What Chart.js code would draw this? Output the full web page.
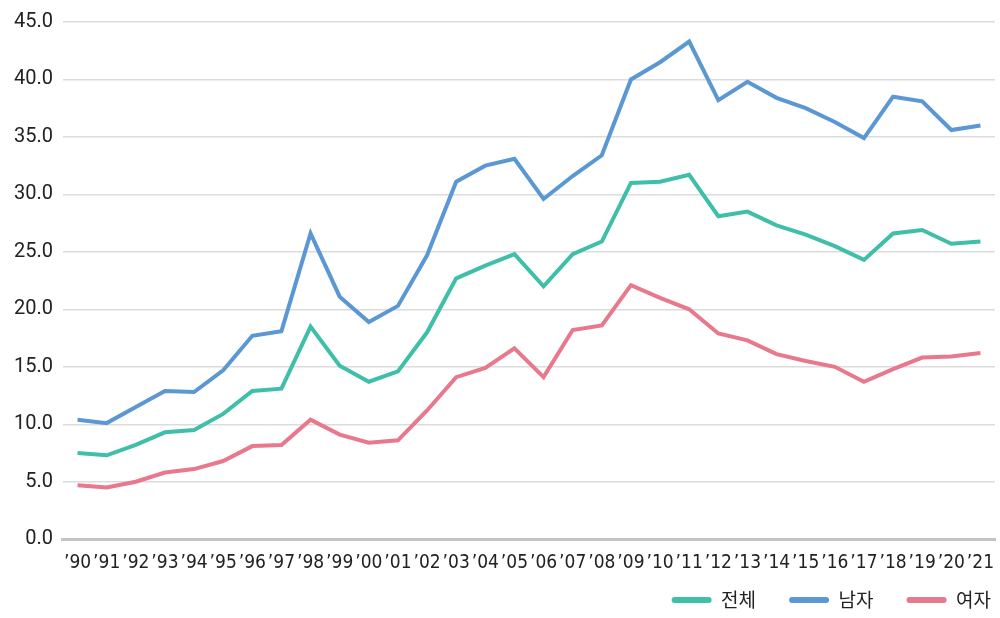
<!DOCTYPE html>
<html>
<head>
<meta charset="utf-8">
<script src="https://cdn.jsdelivr.net/npm/chart.js@4.4.0/dist/chart.umd.min.js"></script>
<style>
  html, body { margin: 0; padding: 0; background: #fff; }
  #wrap { width: 1000px; height: 618px; }
</style>
</head>
<body>
<div id="wrap"><canvas id="lineCanvas"></canvas></div>
<script>
// 연도 라벨
const years = ['\u201990', '\u201991', '\u201992', '\u201993', '\u201994', '\u201995', '\u201996', '\u201997',
    '\u201998', '\u201999', '\u201900', '\u201901', '\u201902', '\u201903', '\u201904', '\u201905',
    '\u201906', '\u201907', '\u201908', '\u201909', '\u201910', '\u201911', '\u201912', '\u201913',
    '\u201914', '\u201915', '\u201916', '\u201917', '\u201918', '\u201919', '\u201920', '\u201921'];

const seriesNames = ['전체', '남자', '여자'];

const total = [7.5, 7.3, 8.2, 9.3, 9.5, 10.9, 12.9, 13.1, 18.5, 15.1, 13.7, 14.6, 18.0, 22.7, 23.8, 24.8,
    22.0, 24.8, 25.9, 31.0, 31.1, 31.7, 28.1, 28.5, 27.3, 26.5, 25.5, 24.3, 26.6, 26.9, 25.7, 25.9];
const male = [10.4, 10.1, 11.5, 12.9, 12.8, 14.7, 17.7, 18.1, 26.6, 21.1, 18.9, 20.3, 24.7, 31.1, 32.5, 33.1,
    29.6, 31.6, 33.4, 40.0, 41.5, 43.3, 38.2, 39.8, 38.4, 37.5, 36.3, 34.9, 38.5, 38.1, 35.6, 36.0];
const female = [4.7, 4.5, 5.0, 5.8, 6.1, 6.8, 8.1, 8.2, 10.4, 9.1, 8.4, 8.6, 11.2, 14.1, 14.9, 16.6,
    14.1, 18.2, 18.6, 22.1, 21.0, 20.0, 17.9, 17.3, 16.1, 15.5, 15.0, 13.7, 14.8, 15.8, 15.9, 16.2];

const yTicks = [0, 5, 10, 15, 20, 25, 30, 35, 40, 45];

const colors = ['#3fbfa9', '#5b97d3', '#e8788c'];
const values = [total, male, female];

const datasets = [];
for (let i = 0; i < seriesNames.length; i++) {
    datasets.push({
        label: seriesNames[i],
        data: values[i],
        borderColor: colors[i],
        backgroundColor: colors[i],
        borderWidth: 4,
        pointRadius: 0,
        tension: 0,
        fill: false
    });
}

// 범례 항목 사이 간격은 넓게, 높이는 낮게
const legendSpacing = {
    id: 'legendSpacing',
    afterInit(chart) {
        const lg = chart.legend;
        const fit = lg.fit;
        const draw = lg.draw;
        lg.fit = function () {
            fit.call(this);
            this.height = 40;
        };
        lg.draw = function () {
            const box = { top: this.top, left: this.left, right: this.right, height: this.height };
            this.top -= 20.5;
            this.height = this.bottom - this.top;
            this.left += 29;
            this.right += 29;
            draw.call(this);
            Object.assign(this, box);
        };
    }
};

const ctx = document.getElementById('lineCanvas').getContext('2d');
new Chart(ctx, {
    type: 'line',
    data: {
        labels: years,
        datasets: datasets
    },
    options: {
        responsive: true,
        maintainAspectRatio: false,
        animation: false,
        layout: { padding: { top: 4, right: 5, left: 4, bottom: 0 } },
        plugins: {
            legend: {
                position: 'bottom',
                align: 'end',
                labels: {
                    boxWidth: 40,
                    boxHeight: 6,
                    useBorderRadius: true,
                    borderRadius: 3,
                    padding: 33,
                    color: '#222',
                    font: { family: "'Noto Sans CJK KR', 'Noto Sans'", size: 19 },
                    generateLabels: function (chart) {
                        const items = Chart.defaults.plugins.legend.labels.generateLabels(chart);
                        return items.map(it => Object.assign(it, { lineWidth: 0 }));
                    }
                }
            },
            tooltip: { enabled: false }
        },
        scales: {
            x: {
                offset: true,
                grid: { display: false },
                border: { display: true, color: '#c4c4c4', width: 3 },
                ticks: {
                    autoSkip: false,
                    maxRotation: 0,
                    padding: 4,
                    color: '#222',
                    font: { family: "'DejaVu Sans Condensed', 'Roboto'", size: 19 }
                }
            },
            y: {
                min: 0,
                max: 45,
                afterBuildTicks: function (axis) {
                    axis.ticks = yTicks.map(v => ({ value: v }));
                },
                grid: { color: '#dcdcdc', lineWidth: 1.5, drawTicks: false },
                border: { display: false },
                ticks: {
                    padding: 10,
                    color: '#222',
                    font: { family: "'Roboto'", size: 20 },
                    callback: v => Number(v).toFixed(1)
                }
            }
        }
    },
    plugins: [legendSpacing]
});
</script>
</body>
</html>
